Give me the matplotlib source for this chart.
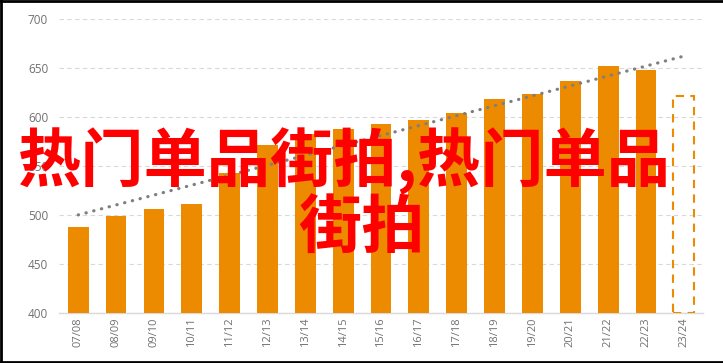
import numpy as np
import matplotlib
matplotlib.use('Agg')
import matplotlib.pyplot as plt
from matplotlib.lines import Line2D

# data
seasons = ['07/08', '08/09', '09/10', '10/11', '11/12', '12/13', '13/14', '14/15',
           '15/16', '16/17', '17/18', '18/19', '19/20', '20/21', '21/22', '22/23', '23/24']
values = [488, 499, 506, 511, 543, 571, 583, 588, 593, 597, 604, 618, 623, 637, 652, 648, 621]
projected = [False] * 16 + [True]
trend_x = [0, 16]
trend_y = [500, 662]
yticks = [400, 450, 500, 550, 600, 650, 700]

orange = '#ED8B00'
grey_txt = '#707070'

fig = plt.figure(figsize=(7.23, 3.63), dpi=100)
ax = fig.add_axes([0.082, 0.138, 0.890, 0.810])

x = np.arange(len(seasons))
for i in range(len(seasons)):
    if projected[i]:
        ax.bar(x[i], values[i] - 400, bottom=400, width=0.55, facecolor='none',
               edgecolor=orange, linewidth=1.5, linestyle=(0, (4, 3)), zorder=3)
    else:
        ax.bar(x[i], values[i] - 400, bottom=400, width=0.55, color=orange, zorder=3)

ax.plot(trend_x, trend_y, color='#7f7f7f', linestyle=(0, (0.1, 2.4)),
        linewidth=2.3, dash_capstyle='round', zorder=4)

ax.set_ylim(400, 700)
ax.set_xlim(-0.5, 16.5)
ax.set_yticks(yticks)
ax.set_xticks(x)
ax.set_xticklabels(seasons, rotation=90)
ax.tick_params(axis='both', length=0, colors=grey_txt, labelsize=8)
ax.tick_params(axis='y', pad=8, labelsize=8.5)
for lab in ax.get_xticklabels() + ax.get_yticklabels():
    lab.set_family('Open Sans')
    lab.set_color(grey_txt)
ax.grid(axis='y', color='#d9d9d9', linestyle=(0, (4, 3)), linewidth=0.8, zorder=0)
for s in ['left', 'right', 'top']:
    ax.spines[s].set_visible(False)
ax.spines['bottom'].set_color('#d9d9d9')
ax.spines['bottom'].set_linewidth(1)

# watermark text
fig.text(0.476, 0.557, '热门单品街拍,热门单品', color='#ff0000', fontsize=45.5,
         fontweight='bold', family=['Noto Sans CJK SC', 'DejaVu Sans'],
         ha='center', va='center', zorder=10)
fig.text(0.5, 0.37, '街拍', color='#ff0000', fontsize=45.5,
         fontweight='bold', family=['Noto Sans CJK SC', 'DejaVu Sans'],
         ha='center', va='center', zorder=10)

# black frame on left, top and bottom
for xs, ys in [([0.001, 0.001], [0, 1]), ([0, 1], [0.998, 0.998]), ([0, 1], [0.004, 0.004])]:
    fig.add_artist(Line2D(xs, ys, color='black', linewidth=2, transform=fig.transFigure))

fig.savefig('out.png', dpi=100)
